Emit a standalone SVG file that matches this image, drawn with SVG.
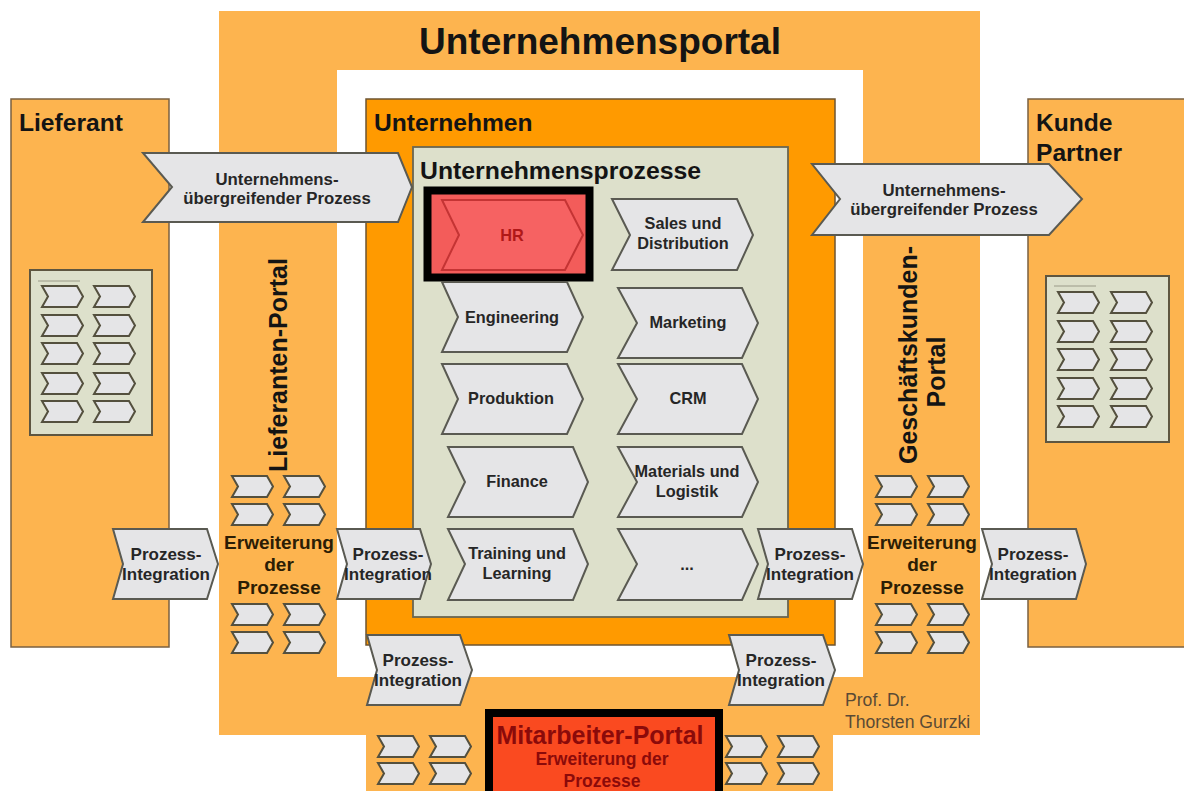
<svg xmlns="http://www.w3.org/2000/svg" xmlns:xlink="http://www.w3.org/1999/xlink" width="1184" height="791" viewBox="0 0 1184 791">
  <defs>
    <style>
      .portal { fill: #FDB44F; }
      .side { fill: #FDB44F; stroke: #7a6040; stroke-width: 1.5; }
      .firm { fill: #FF9A00; stroke: #6e5430; stroke-width: 1.5; }
      .proc { fill: #DDE0CB; stroke: #6a6650; stroke-width: 1.8; }
      .doc { fill: #DDE0CB; stroke: #5e5640; stroke-width: 2; }
      .chev { fill: #E5E5E7; stroke: #5a5a52; stroke-width: 2; }
      .mini { fill: #E5E5E7; stroke: #54503e; stroke-width: 2; }
      .t { font-family: 'Liberation Sans', Arial, sans-serif; font-weight: bold; fill: #262626; }
      .c15 { font-size: 16.3px; text-anchor: middle; }
      .pi { font-size: 17px; text-anchor: middle; }
      .big { font-size: 16.8px; text-anchor: middle; }
      .head { fill: #141414; }
      .h2 { font-size: 24.6px; }
      .ext { font-size: 19px; text-anchor: middle; fill: #2b1d05; }
      .mit { text-anchor: middle; fill: #8B0A0A; }
      .auth { font-family: 'Liberation Sans', Arial, sans-serif; font-size: 17.6px; fill: #5a4a35; }
    </style>
    <path id="sc" class="mini" d="M0,0 H35 L41,10.5 L35,21 H0 L6,10.5 Z"/>
  </defs>

  <!-- portal frame and white interior -->
  <g id="portal">
    <path class="portal" d="M219,11 H980 V735 H833 V791 H366 V735 H219 Z"/>
    <rect x="337" y="70" width="526" height="607" fill="#FFFFFF"/>
    <text class="t head" x="600" y="54" font-size="36" text-anchor="middle" textLength="362" lengthAdjust="spacingAndGlyphs">Unternehmensportal</text>
  </g>

  <!-- supplier -->
  <g id="lieferant">
    <rect class="side" x="11" y="99" width="158" height="548"/>
    <text class="t head h2" x="19" y="131">Lieferant</text>
    <rect class="doc" x="30" y="270" width="122" height="165"/>
    <line x1="38" y1="281" x2="80" y2="281" stroke="#9a9a88" stroke-width="1"/>
    <use href="#sc" x="42" y="286"/><use href="#sc" x="94" y="286"/>
    <use href="#sc" x="42" y="315"/><use href="#sc" x="94" y="315"/>
    <use href="#sc" x="42" y="343"/><use href="#sc" x="94" y="343"/>
    <use href="#sc" x="42" y="373"/><use href="#sc" x="94" y="373"/>
    <use href="#sc" x="42" y="401"/><use href="#sc" x="94" y="401"/>
  </g>

  <!-- customer / partner -->
  <g id="kunde">
    <rect class="side" x="1028" y="99" width="170" height="548"/>
    <text class="t head h2" x="1036" y="131">Kunde</text>
    <text class="t head h2" x="1036" y="161">Partner</text>
    <rect class="doc" x="1046" y="276" width="123" height="166"/>
    <line x1="1054" y1="286" x2="1096" y2="286" stroke="#9a9a88" stroke-width="1"/>
    <use href="#sc" x="1058" y="292"/><use href="#sc" x="1111" y="292"/>
    <use href="#sc" x="1058" y="321"/><use href="#sc" x="1111" y="321"/>
    <use href="#sc" x="1058" y="349"/><use href="#sc" x="1111" y="349"/>
    <use href="#sc" x="1058" y="378"/><use href="#sc" x="1111" y="378"/>
    <use href="#sc" x="1058" y="406"/><use href="#sc" x="1111" y="406"/>
  </g>

  <!-- company -->
  <g id="unternehmen">
    <rect class="firm" x="366" y="99" width="469" height="546"/>
    <text class="t head h2" x="374" y="131">Unternehmen</text>
  </g>

  <!-- company processes -->
  <g id="prozesse">
    <rect class="proc" x="413" y="147" width="375" height="470"/>
    <text class="t head" x="420" y="179" font-size="24.8">Unternehmensprozesse</text>
  </g>

  <g id="hr">
    <rect x="427.5" y="190.5" width="162" height="87" fill="#F35C5A" stroke="#000000" stroke-width="8"/>
    <polygon points="442,200 565,200 583,235 565,270 442,270 459,235" fill="#F66262" stroke="#C43434" stroke-width="2"/>
    <text class="t c15" x="512" y="241" style="fill:#B01818">HR</text>
  </g>
  <g id="sales">
    <polygon class="chev" points="612,199 737,199 753,235 737,270 612,270 630,235"/>
    <text class="t c15" x="683" y="229">Sales und</text>
    <text class="t c15" x="683" y="249">Distribution</text>
  </g>
  <g id="engineering">
    <polygon class="chev" points="442,282 567,282 583,317 567,352 442,352 458,317"/>
    <text class="t c15" x="512" y="323">Engineering</text>
  </g>
  <g id="marketing">
    <polygon class="chev" points="618,288 742,288 758,323 742,358 618,358 637,323"/>
    <text class="t c15" x="688" y="328">Marketing</text>
  </g>
  <g id="produktion">
    <polygon class="chev" points="442,364 567,364 583,399 567,434 442,434 458,399"/>
    <text class="t c15" x="511" y="404">Produktion</text>
  </g>
  <g id="crm">
    <polygon class="chev" points="618,364 742,364 758,399 742,434 618,434 637,399"/>
    <text class="t c15" x="688" y="404">CRM</text>
  </g>
  <g id="finance">
    <polygon class="chev" points="448,447 573,447 588,482 573,517 448,517 465,482"/>
    <text class="t c15" x="517" y="487">Finance</text>
  </g>
  <g id="materials">
    <polygon class="chev" points="618,447 742,447 758,482 742,517 618,517 637,482"/>
    <text class="t c15" x="687" y="477">Materials und</text>
    <text class="t c15" x="687" y="497">Logistik</text>
  </g>
  <g id="training">
    <polygon class="chev" points="448,529 573,529 588,564 573,600 448,600 465,564"/>
    <text class="t c15" x="517" y="559">Training und</text>
    <text class="t c15" x="517" y="579">Learning</text>
  </g>
  <g id="weitere">
    <polygon class="chev" points="618,529 742,529 758,564 742,600 618,600 637,564"/>
    <text class="t c15" x="687" y="570">...</text>
  </g>

  <!-- supplier portal column -->
  <g id="lieferanten-portal">
    <text class="t head" transform="translate(287,365) rotate(-90)" font-size="25" text-anchor="middle">Lieferanten-Portal</text>
    <use href="#sc" x="232" y="476"/><use href="#sc" x="284" y="476"/>
    <use href="#sc" x="232" y="504"/><use href="#sc" x="284" y="504"/>
    <text class="t ext" x="279" y="549">Erweiterung</text>
    <text class="t ext" x="279" y="571">der</text>
    <text class="t ext" x="279" y="594">Prozesse</text>
    <use href="#sc" x="232" y="604"/><use href="#sc" x="284" y="604"/>
    <use href="#sc" x="232" y="632"/><use href="#sc" x="284" y="632"/>
  </g>

  <!-- business customer portal column -->
  <g id="geschaeftskunden-portal">
    <text class="t head" transform="translate(917,355) rotate(-90)" font-size="25" text-anchor="middle">Geschäftskunden-</text>
    <text class="t head" transform="translate(945,372) rotate(-90)" font-size="25" text-anchor="middle">Portal</text>
    <use href="#sc" x="876" y="476"/><use href="#sc" x="928" y="476"/>
    <use href="#sc" x="876" y="504"/><use href="#sc" x="928" y="504"/>
    <text class="t ext" x="922" y="549">Erweiterung</text>
    <text class="t ext" x="922" y="571">der</text>
    <text class="t ext" x="922" y="594">Prozesse</text>
    <use href="#sc" x="876" y="604"/><use href="#sc" x="928" y="604"/>
    <use href="#sc" x="876" y="632"/><use href="#sc" x="928" y="632"/>
  </g>

  <!-- employee portal -->
  <g id="mitarbeiter-portal">
    <use href="#sc" x="378" y="736"/><use href="#sc" x="430" y="736"/>
    <use href="#sc" x="378" y="763"/><use href="#sc" x="430" y="763"/>
    <use href="#sc" x="726" y="736"/><use href="#sc" x="778" y="736"/>
    <use href="#sc" x="726" y="763"/><use href="#sc" x="778" y="763"/>
    <rect x="489" y="713" width="230" height="92" fill="#FA4A20" stroke="#000000" stroke-width="8"/>
    <text class="t mit" x="600" y="744" font-size="25" style="fill:#8B0A0A">Mitarbeiter-Portal</text>
    <text class="t mit" x="602" y="765" font-size="17.5" style="fill:#8B0A0A">Erweiterung der</text>
    <text class="t mit" x="602" y="787" font-size="17.5" style="fill:#8B0A0A">Prozesse</text>
  </g>

  <!-- process flows between the partners -->
  <g id="connectors">
    <g id="flow-lieferant">
      <polygon class="chev" points="143,153 398,153 412,187 398,222 143,222 172,187"/>
      <text class="t big" x="277" y="185">Unternehmens-</text>
      <text class="t big" x="277" y="204">übergreifender Prozess</text>
    </g>
    <g id="flow-kunde">
      <polygon class="chev" points="812,164 1049,164 1082,199 1049,235 812,235 840,199"/>
      <text class="t big" x="944" y="196">Unternehmens-</text>
      <text class="t big" x="944" y="215">übergreifender Prozess</text>
    </g>
    <g id="pi-1">
      <polygon class="chev" points="113,529 207,529 218,564 207,599 113,599 123,564"/>
      <text class="t pi" x="166" y="560">Prozess-</text>
      <text class="t pi" x="166" y="580">Integration</text>
    </g>
    <g id="pi-2">
      <polygon class="chev" points="337,529 420,529 431,564 420,599 337,599 347,564"/>
      <text class="t pi" x="388" y="560">Prozess-</text>
      <text class="t pi" x="388" y="580">Integration</text>
    </g>
    <g id="pi-3">
      <polygon class="chev" points="758,529 852,529 863,564 852,599 758,599 768,564"/>
      <text class="t pi" x="810" y="560">Prozess-</text>
      <text class="t pi" x="810" y="580">Integration</text>
    </g>
    <g id="pi-4">
      <polygon class="chev" points="982,529 1076,529 1086,564 1076,599 982,599 992,564"/>
      <text class="t pi" x="1033" y="560">Prozess-</text>
      <text class="t pi" x="1033" y="580">Integration</text>
    </g>
    <g id="pi-5">
      <polygon class="chev" points="367,635 460,635 472,670 460,705 367,705 377,670"/>
      <text class="t pi" x="418" y="666">Prozess-</text>
      <text class="t pi" x="418" y="686">Integration</text>
    </g>
    <g id="pi-6">
      <polygon class="chev" points="729,635 823,635 835,670 823,705 729,705 739,670"/>
      <text class="t pi" x="781" y="666">Prozess-</text>
      <text class="t pi" x="781" y="686">Integration</text>
    </g>
  </g>

  <g id="autor">
    <text class="auth" x="845" y="706">Prof. Dr.</text>
    <text class="auth" x="845" y="728">Thorsten Gurzki</text>
  </g>
</svg>
